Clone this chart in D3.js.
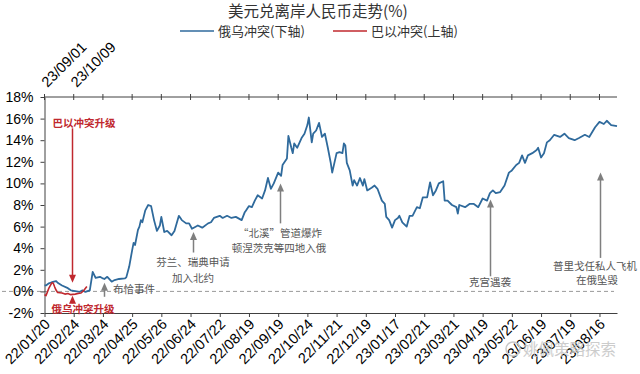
<!DOCTYPE html>
<html>
<head>
<meta charset="utf-8">
<script src="https://cdn.jsdelivr.net/npm/d3@7"></script>
<style>
  body { margin: 0; background: #fff; }
  svg { display: block; font-family: "Liberation Sans", Arial, sans-serif; }
  .cjk { font-family: "Noto Sans CJK SC", sans-serif; }
</style>
</head>
<body>
<svg id="chart" width="640" height="374"></svg>
<script>
/* Tick labels: the bottom axis counts trading days since 22/01/20,
 * the top axis counts trading days since 23/09/01 (same spacing). */
var bottomTicks = ['22/01/20', '22/02/24', '22/03/24', '22/04/25', '22/05/26',
                   '22/06/24', '22/07/22', '22/08/19', '22/09/19', '22/10/24',
                   '22/11/21', '22/12/19', '23/01/17', '23/02/21', '23/03/21',
                   '23/04/19', '23/05/22', '23/06/19', '23/07/19', '23/08/16'];
var topTicks = ['23/09/01', '23/10/09'];
var yTicks = [-2, 0, 2, 4, 6, 8, 10, 12, 14, 16, 18];

// Russia-Ukraine: USD/CNH change (%), by trading day
var ruDays = [0, 1, 3, 5, 8, 9, 12, 16, 18, 22, 24, 26, 28, 31, 33, 35, 38, 40,
              41, 43, 46, 48, 51, 55, 56, 58, 60, 61, 62, 64, 65, 66, 67, 69,
              71, 73, 75, 77, 79, 80, 82, 84, 87, 89, 92, 94, 97, 99, 101, 105,
              108, 112, 114, 116, 120, 122, 125, 128, 131, 135, 137, 138, 140,
              142, 144, 146, 149, 151, 153, 155, 157, 160, 162, 163, 166, 167,
              169, 170, 171, 173, 176, 178, 180, 181, 183, 184, 186, 188, 190,
              192, 194, 196, 197, 200, 202, 204, 205, 206, 207, 209, 211, 212,
              214, 216, 218, 219, 221, 224, 226, 228, 231, 233, 234, 236, 238,
              240, 242, 243, 245, 248, 250, 252, 255, 257, 259, 262, 264, 266,
              268, 270, 273, 274, 276, 279, 282, 283, 284, 288, 291, 294, 297,
              300, 303, 305, 307, 309, 312, 315, 318, 320, 323, 325, 327, 329,
              331, 334, 337, 338, 340, 342, 344, 346, 349, 353, 356, 359, 363,
              366, 370, 373, 377, 380, 383, 385, 388, 392];
var ruPct = [0.55, 0.55, 0.75, 0.85, 0.95, 0.8, 0.55, 0.3, 0.1, 0.0, -0.05, 0.1,
             -0.05, 0.1, 1.8, 1.25, 1.35, 1.2, 1.15, 1.35, 0.9, 1.05, 1.15, 1.2,
             1.3, 2.3, 3.8, 4.5, 4.3, 5.7, 6.0, 6.6, 6.4, 7.5, 8.0, 7.9, 6.6,
             5.6, 6.1, 6.9, 5.5, 5.6, 5.2, 5.6, 7.0, 6.6, 6.3, 6.3, 5.8, 6.1,
             5.9, 6.3, 6.4, 6.8, 7.0, 6.8, 7.0, 6.8, 6.9, 6.6, 7.3, 7.5, 7.9,
             7.8, 8.4, 8.9, 8.6, 9.35, 10.5, 9.5, 10.0, 11.0, 10.7, 11.7, 12.3,
             14.4, 13.3, 12.8, 13.7, 13.3, 14.2, 14.6, 15.4, 16.1, 13.8, 14.6,
             14.9, 15.6, 14.3, 14.6, 13.3, 11.9, 11.0, 12.8, 12.9, 12.8, 13.7,
             13.5, 11.9, 11.2, 9.8, 10.3, 9.8, 10.5, 9.8, 10.4, 9.35, 9.6, 9.8,
             9.5, 8.4, 8.1, 6.9, 6.6, 5.9, 6.6, 6.8, 7.0, 6.4, 6.0, 7.0, 7.0,
             7.8, 7.7, 8.7, 8.7, 10.1, 8.9, 9.35, 10.0, 10.2, 8.4, 8.4, 8.0, 7.8,
             7.2, 8.0, 7.8, 8.1, 8.1, 7.8, 8.6, 8.4, 9.1, 9.35, 9.1, 9.2, 9.8,
             11.0, 11.2, 11.7, 11.9, 12.6, 11.9, 12.6, 12.8, 13.1, 13.3, 12.4,
             12.8, 13.8, 14.0, 14.5, 14.3, 14.6, 14.2, 14.0, 14.2, 14.5, 14.3,
             15.2, 15.7, 15.5, 15.8, 15.4, 15.3];

// Israel-Palestine: USD/CNH change (%), by trading day (top axis)
var ilDays = [0, 1, 3, 5, 6, 7, 8, 9, 12, 14, 16, 18, 21, 23, 25, 27, 29];
var ilPct = [-0.3, -0.4, 0.3, 0.8, 0.75, 0.4, 0.1, -0.1, -0.15, -0.25, -0.2,
             -0.3, -0.25, -0.2, -0.15, 0.1, 0.45];

var blue = '#2f6a9c', red = '#c0282e', grey = '#7f7f7f', axisColor = '#404040';

var svg = d3.select('#chart');

var x = d3.scaleLinear().domain([0, 392]).range([44.5, 617]);
var y = d3.scaleLinear().domain([-2, 18]).range([313, 97]);
var tickDays = d3.range(0, 381, 20);

/* Zero reference line (dashed, runs under the y labels) */
svg.append('line')
    .attr('x1', 2).attr('x2', 614)
    .attr('y1', y(0)).attr('y2', y(0))
    .attr('stroke', '#9a9a9a')
    .attr('stroke-dasharray', '4,3');

/* Left axis */
var yAxis = svg.append('g')
    .attr('transform', 'translate(44.5,0)')
    .call(d3.axisLeft(y).tickValues(yTicks)
          .tickFormat(function (d) { return d + '%'; })
          .tickSize(4).tickSizeOuter(0).tickPadding(7));
yAxis.selectAll('text').attr('font-size', 14).attr('fill', '#000');

/* Bottom axis */
var xAxis = svg.append('g')
    .attr('transform', 'translate(0,' + y(-2) + ')')
    .call(d3.axisBottom(x).tickValues(tickDays)
          .tickFormat(function (d, i) { return bottomTicks[i]; })
          .tickSize(4).tickSizeOuter(0));
xAxis.selectAll('text')
    .attr('font-size', 14.5).attr('fill', '#000')
    .attr('text-anchor', 'end')
    .attr('dy', 0).attr('y', 0)
    .attr('transform', 'translate(6,12) rotate(-45)');

/* Top axis: crossing ticks, only first two labelled */
var topAxis = svg.append('g').attr('transform', 'translate(0,' + y(18) + ')');
topAxis.append('line').attr('x1', x(0)).attr('x2', x(392))
    .attr('stroke', axisColor);
topAxis.selectAll('line.tk').data(tickDays).enter().append('line')
    .attr('class', 'tk')
    .attr('x1', function (d) { return x(d); })
    .attr('x2', function (d) { return x(d); })
    .attr('y1', -3).attr('y2', 3)
    .attr('stroke', axisColor);
topAxis.selectAll('text').data(topTicks).enter().append('text')
    .attr('transform', function (d, i) {
        return 'translate(' + (x(i * 20) + 3) + ',-9) rotate(-45)';
    })
    .attr('font-size', 14.5)
    .text(function (d) { return d; });

[yAxis, xAxis].forEach(function (g) {
    g.selectAll('path,line').attr('stroke', axisColor);
});

/* Series lines */
var line = d3.line()
    .x(function (d) { return x(d[0]); })
    .y(function (d) { return y(d[1]); });

svg.append('path')
    .datum(d3.zip(ruDays, ruPct))
    .attr('d', line)
    .attr('fill', 'none').attr('stroke', blue).attr('stroke-width', 1.8)
    .attr('stroke-linejoin', 'round');

svg.append('path')
    .datum(d3.zip(ilDays, ilPct))
    .attr('d', line)
    .attr('fill', 'none').attr('stroke', red).attr('stroke-width', 1.6)
    .attr('stroke-linejoin', 'round');

/* Annotations */
function arrow(day, fromPct, toPct, color) {
    var x0 = Math.round(x(day)) + 0.5, y0 = y(fromPct), y1 = y(toPct);
    var dir = y1 < y0 ? 1 : -1;
    svg.append('line')
        .attr('x1', x0).attr('x2', x0)
        .attr('y1', y0).attr('y2', y1 + dir * 6)
        .attr('stroke', color).attr('stroke-width', 1.5);
    svg.append('path')
        .attr('d', 'M' + x0 + ',' + y1 + 'L' + (x0 - 3.5) + ',' + (y1 + dir * 8) +
                   'L' + (x0 + 3.5) + ',' + (y1 + dir * 8) + 'Z')
        .attr('fill', color);
}

function note(cx, by, txt, color, bold, anchor) {
    svg.append('text')
        .attr('class', 'cjk')
        .attr('x', cx).attr('y', by)
        .attr('text-anchor', anchor || 'middle')
        .attr('font-size', 10.5)
        .attr('font-weight', bold ? 'bold' : 'normal')
        .attr('fill', color)
        .text(txt);
}

arrow(40.5, -0.5, 0.8, grey);
note(113, 293, '布恰事件', '#555', false, 'start');

arrow(101.5, 3.6, 5.5, grey);
note(193, 266, '芬兰、瑞典申请', '#555');
note(193, 282, '加入北约', '#555');

arrow(161.5, 6.3, 10.0, grey);
note(280, 237, '\u201c北溪\u201d管道爆炸', '#555');
note(279, 252, '顿涅茨克等四地入俄', '#555');

arrow(305, 1.4, 8.5, grey);
note(490, 286, '克宫遇袭', '#555');

arrow(380.5, 3.1, 11.0, grey);
note(595, 270, '普里戈任私人飞机', '#555');
note(597, 284, '在俄坠毁', '#555');

arrow(18.8, 15.1, 0.8, red);
note(84, 127, '巴以冲突升级', red, true);
arrow(18.8, -1.1, -0.4, red);
note(83, 313, '俄乌冲突升级', red, true);

/* Title and legend */
svg.append('text')
    .attr('class', 'cjk')
    .attr('x', 318).attr('y', 17)
    .attr('text-anchor', 'middle')
    .attr('font-size', 15.5).attr('fill', '#333')
    .text('美元兑离岸人民币走势(%)');

var legend = [{ name: '俄乌冲突(下轴)', color: blue, x: 180 },
              { name: '巴以冲突(上轴)', color: red, x: 333 }];
legend.forEach(function (l) {
    svg.append('line')
        .attr('x1', l.x).attr('x2', l.x + 34)
        .attr('y1', 31).attr('y2', 31)
        .attr('stroke', l.color).attr('stroke-width', 1.5);
    svg.append('text')
        .attr('class', 'cjk')
        .attr('x', l.x + 38).attr('y', 36)
        .attr('font-size', 13).attr('fill', '#333')
        .text(l.name);
});

/* Watermark */
svg.append('circle')
    .attr('cx', 513).attr('cy', 349).attr('r', 7)
    .attr('fill', 'none').attr('stroke', '#c8c8c8').attr('stroke-width', 1.5);
svg.append('text')
    .attr('class', 'cjk')
    .attr('x', 523).attr('y', 355)
    .attr('font-size', 15.5).attr('fill', '#c4c4c4').attr('opacity', 0.85)
    .text('姚佩策略探索');
</script>
</body>
</html>
